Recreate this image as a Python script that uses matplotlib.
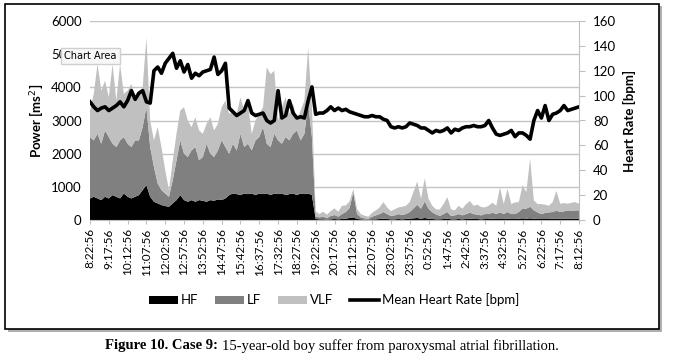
import numpy as np
import matplotlib.pyplot as plt
from matplotlib.patches import Rectangle

# Time labels (every 55 min) and 11-min samples between them
tick_labels = ['8:22:56', '9:17:56', '10:12:56', '11:07:56', '12:02:56', '12:57:56',
               '13:52:56', '14:47:56', '15:42:56', '16:37:56', '17:32:56', '18:27:56',
               '19:22:56', '20:17:56', '21:12:56', '22:07:56', '23:02:56', '23:57:56',
               '0:52:56', '1:47:56', '2:42:56', '3:37:56', '4:32:56', '5:27:56',
               '6:22:56', '7:17:56', '8:12:56']
samples_per_tick = 5

hf = [650, 700, 650, 600, 700, 650, 750, 700, 650, 800,
      700, 650, 700, 750, 900, 1050, 700, 550, 500, 450,
      420, 400, 500, 600, 750, 600, 550, 600, 550, 600,
      580, 550, 600, 580, 620, 600, 650, 750, 800, 780,
      750, 800, 780, 800, 750, 800, 780, 800, 750, 800,
      780, 800, 750, 780, 800, 750, 800, 780, 800, 750,
      30, 20, 20, 10, 20, 30, 20, 30, 40, 60,
      80, 30, 20, 10, 10, 20, 20, 30, 40, 30,
      20, 20, 30, 20, 30, 40, 50, 60, 40, 60,
      40, 30, 20, 20, 30, 40, 20, 20, 30, 20,
      30, 40, 30, 30, 20, 30, 30, 40, 30, 30,
      30, 40, 30, 30, 40, 50, 40, 50, 40, 30,
      30, 30, 30, 40, 30, 40, 40, 40, 40, 40, 40]

lf = [1850, 1700, 1950, 1700, 2000, 1850, 1550, 1500, 1750, 1700,
      1600, 1550, 1700, 1650, 1900, 2350, 1500, 1050, 600, 450,
      380, 300, 700, 1200, 1650, 1400, 1350, 1500, 1650, 1200,
      1320, 1750, 1400, 1320, 1480, 1800, 1550, 1250, 1500, 1320,
      1850, 1400, 1520, 1300, 1650, 1700, 2020, 1500, 1450, 1800,
      1620, 1500, 1750, 1620, 1800, 1950, 1600, 1820, 2700, 1750,
      80, 60, 80, 50, 100, 120, 80, 150, 200, 300,
      750, 150, 60, 40, 30, 80, 120, 150, 200, 150,
      100, 120, 150, 130, 150, 200, 300, 400, 300, 500,
      300, 200, 150, 100, 150, 200, 100, 120, 150, 120,
      150, 180, 150, 130, 120, 150, 150, 180, 150, 200,
      150, 200, 150, 150, 200, 300, 300, 350, 250, 200,
      150, 180, 200, 200, 250, 200, 220, 250, 230, 250, 250]

vlf = [800, 1400, 2100, 1600, 1500, 1200, 2400, 1400, 2300, 1300,
       1600, 1900, 1300, 1400, 1200, 2100, 800, 800, 1700, 1300,
       700, 200, 600, 800, 900, 1400, 1100, 700, 900, 900,
       700, 600, 1100, 800, 800, 1000, 1400, 1200, 1000, 1100,
       1100, 1100, 1200, 500, 600, 700, 600, 2300, 2200, 1900,
       600, 1100, 1200, 800, 900, 300, 900, 1000, 1700, 900,
       150, 100, 150, 100, 150, 200, 150, 250, 200, 200,
       100, 150, 100, 80, 60, 120, 150, 200, 300, 200,
       150, 180, 200, 250, 250, 300, 500, 700, 300, 700,
       300, 200, 150, 200, 300, 450, 200, 150, 250, 200,
       300, 350, 250, 300, 250, 200, 250, 300, 250, 750,
       300, 700, 300, 350, 300, 700, 500, 1450, 300, 250,
       300, 250, 200, 300, 600, 250, 250, 200, 250, 250, 200]

heart_rate = [95, 91, 88, 90, 91, 88, 90, 92, 95, 91,
              96, 104, 97, 102, 104, 95, 94, 120, 123, 118,
              126, 130, 134, 122, 128, 119, 125, 114, 118, 116,
              119, 120, 121, 131, 117, 120, 126, 90, 87, 84,
              86, 88, 96, 86, 84, 85, 86, 80, 78, 80,
              104, 82, 84, 96, 86, 82, 83, 82, 96, 107,
              85, 86, 86, 88, 91, 88, 90, 88, 89, 87,
              86, 85, 84, 83, 83, 84, 83, 83, 81, 80,
              75, 74, 75, 74, 75, 78, 77, 76, 74, 74,
              72, 70, 72, 71, 72, 74, 70, 73, 72, 74,
              75, 75, 76, 75, 75, 76, 80, 74, 69, 68,
              69, 70, 72, 67, 70, 70, 68, 65, 80, 88,
              82, 92, 80, 85, 86, 88, 92, 88, 89, 90, 91]

x = np.arange(len(hf))
tick_pos = np.arange(len(tick_labels)) * samples_per_tick

plt.rcParams['font.family'] = ['Lato', 'DejaVu Sans']

fig = plt.figure(figsize=(6.73, 3.59), dpi=100)
ax = fig.add_axes([90 / 673, 1 - 220 / 359, 489 / 673, 199 / 359])

ax.stackplot(x, hf, lf, vlf, colors=['#000000', '#808080', '#c0c0c0'],
             labels=['HF', 'LF', 'VLF'], linewidth=0)
ax.set_ylim(0, 6000)
ax.set_yticks(np.arange(0, 6001, 1000))
ax.set_xlim(0, len(hf) - 1)
ax.set_xticks(tick_pos)
ax.set_xticklabels(tick_labels, rotation=90, fontsize=8.5)
ax.tick_params(axis='y', labelsize=9.5, length=0, pad=6)
ax.tick_params(axis='x', length=3, color='#bfbfbf', pad=3)
ax.grid(axis='y', color='#c4c4c4', linewidth=1)
ax.set_axisbelow(True)
for s in ['top', 'right', 'left']:
    ax.spines[s].set_visible(False)
ax.spines['bottom'].set_color('#bfbfbf')
ax.set_ylabel('Power [ms$^2$]', fontsize=9.5, fontweight='bold', labelpad=4)

ax2 = ax.twinx()
ax2.plot(x, heart_rate, color='black', linewidth=2.6, label='Mean Heart Rate [bpm]')
ax2.set_ylim(0, 160)
ax2.set_yticks(np.arange(0, 161, 20))
ax2.tick_params(axis='y', labelsize=9.5, length=4, color='#bfbfbf', pad=6)
for s in ['top', 'left', 'bottom']:
    ax2.spines[s].set_visible(False)
ax2.spines['right'].set_color('#bfbfbf')
ax2.set_ylabel('Heart Rate [bpm]', fontsize=9.5, fontweight='bold', labelpad=5)

h1, l1 = ax.get_legend_handles_labels()
h2, l2 = ax2.get_legend_handles_labels()
fig.legend(h1 + h2, l1 + l2, loc='center', bbox_to_anchor=(334 / 673, 1 - 300 / 359),
           ncol=4, frameon=False, fontsize=9.5, handlelength=2.2, handleheight=0.6,
           columnspacing=1.3, handletextpad=0.2)

# outer frame with shadow
fig.patches.append(Rectangle((8 / 673, 1 - 332 / 359), 654 / 673, 326 / 359,
                             transform=fig.transFigure, facecolor='#b0b0b0',
                             edgecolor='none', zorder=-2))
fig.patches.append(Rectangle((5 / 673, 1 - 329 / 359), 654 / 673, 325 / 359,
                             transform=fig.transFigure, facecolor='white',
                             edgecolor='black', linewidth=1.2, zorder=-1))

# Excel tooltip covering the 5000 label
fig.text(64 / 673, 1 - 56 / 359, 'Chart Area', fontsize=7, va='center', ha='left',
         family=['DejaVu Sans'], zorder=10,
         bbox=dict(boxstyle='square,pad=0.35', facecolor='#f7f7f7', edgecolor='#d0d0d0'))

# caption: bold part + regular part
cap_bold = fig.text(105 / 673, 1 - 346 / 359, 'Figure 10. Case 9: ', ha='left', va='center',
                    fontsize=10.5, fontweight='bold', family=['Liberation Serif'])
fig.canvas.draw()
bb = cap_bold.get_window_extent()
fig.text(bb.x1 / fig.bbox.width, 1 - 346 / 359,
         '15-year-old boy suffer from paroxysmal atrial fibrillation.',
         ha='left', va='center', fontsize=10.5, family=['Liberation Serif'])

fig.savefig('out.png', dpi=100)
